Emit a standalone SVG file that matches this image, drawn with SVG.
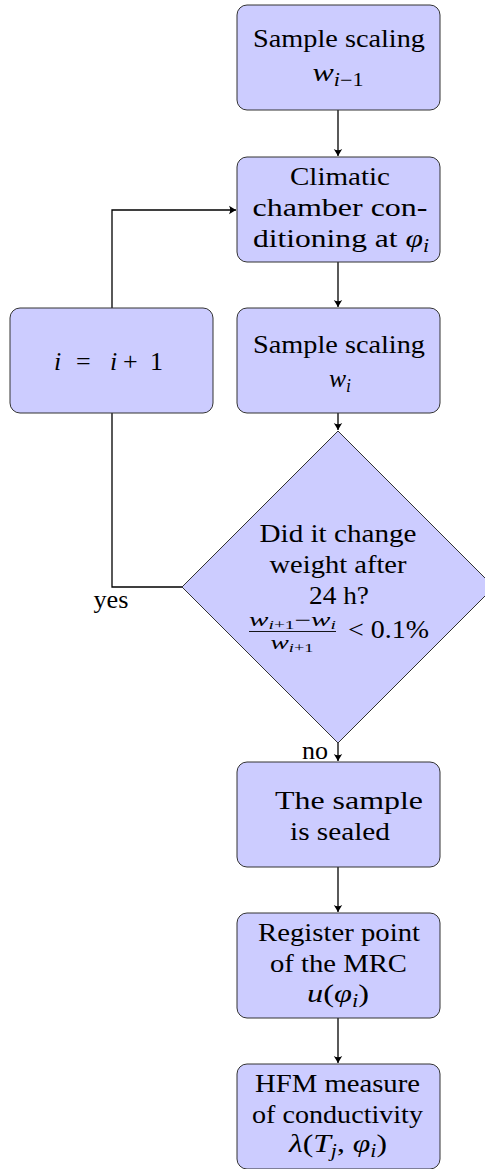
<svg xmlns="http://www.w3.org/2000/svg" width="485" height="1169" viewBox="0 0 485 1169">
  <style>
    .box { fill: #ccccff; stroke: #333333; stroke-width: 1; }
    .t { font-family: 'Liberation Serif', 'Times New Roman', Tinos, 'Noto Serif', 'DejaVu Serif', serif; font-size: 26px; fill: #000; text-anchor: middle; }
    .s { text-anchor: start; }
    .m { font-style: italic; }
    .sub { font-size: 18px; }
    .ssub { font-size: 12px; }
    .frac { font-family: 'Liberation Serif', 'Times New Roman', Tinos, 'Noto Serif', 'DejaVu Serif', serif; font-size: 18px; fill: #000; text-anchor: middle; }
    .edge { fill: none; stroke: #000; stroke-width: 1.3; }
  </style>
  <defs>
    <marker id="arrow" markerUnits="userSpaceOnUse" markerWidth="12" markerHeight="12" viewBox="-8 -6 10 12" refX="0" refY="0" orient="auto">
      <path d="M0,0 L-7,-4.2 Q-4.6,0 -7,4.2 Z" fill="#000"/>
    </marker>
  </defs>

  <rect width="485" height="1169" fill="#ffffff"/>

  <!-- connectors -->
  <g id="connectors">
    <path class="edge" d="M338,110 V156" marker-end="url(#arrow)"/>
    <path class="edge" d="M338,262 V307" marker-end="url(#arrow)"/>
    <path class="edge" d="M338,413 V430" marker-end="url(#arrow)"/>
    <path class="edge" d="M338,743 V761" marker-end="url(#arrow)"/>
    <path class="edge" d="M338,867 V912" marker-end="url(#arrow)"/>
    <path class="edge" d="M338,1018 V1063" marker-end="url(#arrow)"/>
    <path class="edge" d="M182,587 H112 V413"/>
    <path class="edge" d="M112,308 V210 H236" marker-end="url(#arrow)"/>
    <text class="t" x="111" y="608" textLength="35" lengthAdjust="spacingAndGlyphs">yes</text>
    <text class="t" x="315" y="759" textLength="26" lengthAdjust="spacingAndGlyphs">no</text>
  </g>

  <!-- weighing before conditioning -->
  <g id="scale-prev">
    <rect class="box" x="237" y="5" width="203" height="105" rx="10"/>
    <text class="t" x="339" y="47" textLength="172" lengthAdjust="spacingAndGlyphs">Sample scaling</text>
    <text class="t" x="338" y="81" textLength="51" lengthAdjust="spacingAndGlyphs"><tspan class="m">w</tspan><tspan class="sub" dy="5"><tspan class="m">i</tspan>−1</tspan></text>
  </g>

  <g id="conditioning">
    <rect class="box" x="237" y="157" width="203" height="105" rx="10"/>
    <text class="t" x="340" y="185" textLength="100" lengthAdjust="spacingAndGlyphs">Climatic</text>
    <text class="t" x="340" y="216" textLength="175" lengthAdjust="spacingAndGlyphs">chamber con-</text>
    <text class="t" x="341" y="247" textLength="176" lengthAdjust="spacingAndGlyphs">ditioning at <tspan class="m">φ</tspan><tspan class="sub m" dy="5">i</tspan></text>
  </g>

  <g id="increment">
    <rect class="box" x="10" y="308" width="203" height="105" rx="10"/>
    <text class="t s" y="370"><tspan class="m" x="54">i</tspan><tspan x="76">=</tspan><tspan class="m" x="110">i</tspan><tspan x="123">+</tspan><tspan x="150">1</tspan></text>
  </g>

  <g id="scale-curr">
    <rect class="box" x="237" y="308" width="203" height="105" rx="10"/>
    <text class="t" x="339" y="353" textLength="172" lengthAdjust="spacingAndGlyphs">Sample scaling</text>
    <text class="t" x="340" y="387" textLength="22" lengthAdjust="spacingAndGlyphs"><tspan class="m">w</tspan><tspan class="sub m" dy="5">i</tspan></text>
  </g>

  <g id="decision">
    <polygon class="box" points="338,431 494,587 338,743 182,587"/>
    <text class="t" x="338" y="542" textLength="157" lengthAdjust="spacingAndGlyphs">Did it change</text>
    <text class="t" x="338" y="573" textLength="137" lengthAdjust="spacingAndGlyphs">weight after</text>
    <text class="t" x="339" y="604" textLength="60" lengthAdjust="spacingAndGlyphs">24 h?</text>
    <!-- relative weight change fraction -->
    <text class="frac" x="292.5" y="626" textLength="87" lengthAdjust="spacingAndGlyphs"><tspan class="m">w</tspan><tspan class="ssub" dy="3"><tspan class="m">i</tspan>+1</tspan><tspan dy="-3">−</tspan><tspan class="m">w</tspan><tspan class="ssub m" dy="3">i</tspan></text>
    <line x1="249" y1="631.5" x2="336" y2="631.5" stroke="#000" stroke-width="0.9"/>
    <text class="frac" x="292" y="649" textLength="43" lengthAdjust="spacingAndGlyphs"><tspan class="m">w</tspan><tspan class="ssub" dy="3"><tspan class="m">i</tspan>+1</tspan></text>
    <text class="t" x="388.5" y="638" textLength="81" lengthAdjust="spacingAndGlyphs">&lt; 0.1%</text>
  </g>

  <g id="sealed">
    <rect class="box" x="237" y="762" width="203" height="105" rx="10"/>
    <text class="t" x="349" y="809" textLength="148" lengthAdjust="spacingAndGlyphs">The sample</text>
    <text class="t" x="340" y="840" textLength="100" lengthAdjust="spacingAndGlyphs">is sealed</text>
  </g>

  <g id="register">
    <rect class="box" x="237" y="913" width="203" height="105" rx="10"/>
    <text class="t" x="339" y="941" textLength="162" lengthAdjust="spacingAndGlyphs">Register point</text>
    <text class="t" x="338.5" y="972" textLength="137" lengthAdjust="spacingAndGlyphs">of the MRC</text>
    <text class="t" x="338" y="1002" textLength="62" lengthAdjust="spacingAndGlyphs"><tspan class="m">u</tspan>(<tspan class="m">φ</tspan><tspan class="sub m" dy="5">i</tspan><tspan dy="-5">)</tspan></text>
  </g>

  <g id="hfm">
    <rect class="box" x="237" y="1064" width="203" height="105" rx="10"/>
    <text class="t" x="337.5" y="1092" textLength="165" lengthAdjust="spacingAndGlyphs">HFM measure</text>
    <text class="t" x="337.5" y="1123" textLength="171" lengthAdjust="spacingAndGlyphs">of conductivity</text>
    <text class="t" x="338" y="1152" textLength="98" lengthAdjust="spacingAndGlyphs"><tspan class="m">λ</tspan>(<tspan class="m">T</tspan><tspan class="sub m" dy="5">j</tspan><tspan dy="-5">, </tspan><tspan class="m">φ</tspan><tspan class="sub m" dy="5">i</tspan><tspan dy="-5">)</tspan></text>
  </g>
</svg>
